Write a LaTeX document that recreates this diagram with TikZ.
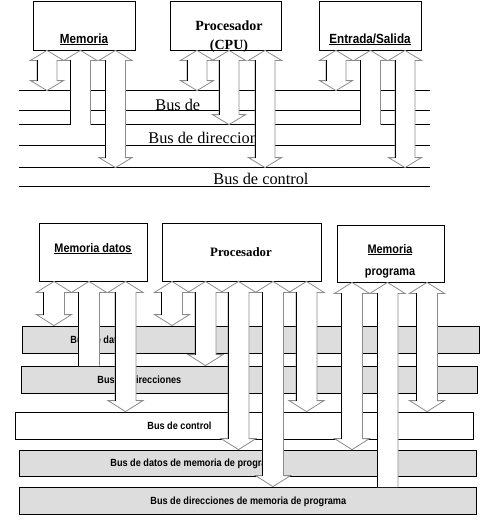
\documentclass[tikz,border=0pt]{standalone}
\usepackage{fontspec}
\setmainfont{Liberation Serif}
\newfontfamily\lblfont{Liberation Sans}[FakeStretch=0.88]
\usetikzlibrary{calc}

\definecolor{busgray}{RGB}{221,221,221}

% size of the fat arrows
\newcommand{\headw}{16.5pt}
\newcommand{\shaftw}{10pt}
\newcommand{\headh}{10pt}

% fat double arrow from a unit down to a bus
\newcommand{\busarrow}[3]{%
  \path[fatbody] let \p1=(#2.south), \p2=(#3.north) in
    (#1pt,\y1) -- ++(\headw,-\headh) -- ++({\shaftw-\headw},0pt)
    -- ({#1pt+\shaftw},{\y2+\headh}) -- ++({\headw-\shaftw},0pt) -- (#1pt,\y2)
    -- ++(-\headw,\headh) -- ++({\headw-\shaftw},0pt)
    -- ({#1pt-\shaftw},{\y1-\headh}) -- ++({\shaftw-\headw},0pt) -- cycle;
  \draw[fatedge] let \p1=(#2.south), \p2=(#3.north) in
    ({#1pt-\shaftw},{\y2+\headh}) -- ({#1pt-\shaftw},{\y1-\headh});}

% fat arrow that opens into the bus
\newcommand{\busjoin}[3]{%
  \fill[white] let \p1=(#2.south), \p2=(#3.north) in
    ({#1pt-\shaftw},{\y2-0.5pt}) -- ({#1pt-\shaftw},{\y1-\headh}) -- ++({\shaftw-\headw},0pt)
    -- (#1pt,\y1) -- ++(\headw,-\headh) -- ++({\shaftw-\headw},0pt)
    -- ({#1pt+\shaftw},{\y2-0.5pt}) -- cycle;
  \draw[fatline] let \p1=(#2.south), \p2=(#3.north) in
    ({#1pt+\shaftw},\y2) -- ({#1pt+\shaftw},{\y1-\headh}) -- ++({\headw-\shaftw},0pt)
    -- (#1pt,\y1) -- ++(-\headw,-\headh) -- ++({\headw-\shaftw},0pt);
  \draw[fatedge] let \p1=(#2.south), \p2=(#3.north) in
    ({#1pt-\shaftw},\y2) -- ({#1pt-\shaftw},{\y1-\headh});}

\begin{document}
\begin{tikzpicture}[x=1pt, y=-1pt, line width=0.8pt]

    % Define styles
    \tikzstyle{unit} = [rectangle, draw=black, inner sep=0pt]
    \tikzstyle{toplbl} = [inner sep=0pt, anchor=base, font={\lblfont\bfseries\fontsize{13.3}{16}\selectfont}]
    \tikzstyle{cpulbl} = [inner sep=0pt, anchor=base, font={\bfseries\fontsize{14}{16}\selectfont}]
    \tikzstyle{wire} = [inner sep=0pt, minimum width=411pt]
    \tikzstyle{wirelbl} = [inner sep=0pt, anchor=base west, font={\fontsize{16.3}{19}\selectfont}]
    \tikzstyle{boxlbl} = [inner sep=0pt, anchor=base, font={\lblfont\bfseries\fontsize{12.4}{14}\selectfont}]
    \tikzstyle{proclbl} = [inner sep=0pt, anchor=base, font={\bfseries\fontsize{12.8}{15}\selectfont}]
    \tikzstyle{band} = [rectangle, draw=black, fill=busgray, inner sep=0pt, minimum height=27pt]
    \tikzstyle{bandlbl} = [inner sep=0pt, anchor=base west, font={\lblfont\bfseries\fontsize{10.4}{12}\selectfont}]
    \tikzstyle{fatbody} = [fill=white, draw=black!45, line join=miter]
    \tikzstyle{fatline} = [draw=black!45, line join=miter]
    \tikzstyle{fatedge} = [draw=black]

    \useasboundingbox (0,0) rectangle (495,530);

    % Place units (first system)
    \node (mem) [unit, minimum width=102pt, minimum height=49pt] at (84,25.5) {};
    \node (cpu) [unit, minimum width=111pt, minimum height=49pt] at (225.5,25.5) {};
    \node (io) [unit, minimum width=102pt, minimum height=49pt] at (370,25.5) {};
    \node (memlbl) [toplbl] at (84,43) {\underline{Memoria}};
    \node (cpulbl) [cpulbl] at (229,30.5) {Procesador};
    \node (cpulblb) [cpulbl] at (229,49) {(CPU)};
    \node (iolbl) [toplbl] at (370,43) {\underline{\smash{Entrada/Salida}}};

    % Place buses (first system)
    \node (dbus) [wire, minimum height=19pt] at (224.5,100.5) {};
    \node (dirbus) [wire, minimum height=20pt] at (224.5,135) {};
    \node (ctlbus) [wire, minimum height=18pt] at (224.5,177) {};
    \foreach \b in {dbus,dirbus,ctlbus}
        \draw (\b.north west) -- (\b.north east) (\b.south west) -- (\b.south east);
    \node (dbuslbl) [wirelbl] at (155,110.5) {Bus de};
    \node (dirbuslbl) [wirelbl] at (148,143.5) {Bus de direccion};
    \node (ctlbuslbl) [wirelbl] at (213,184) {Bus de control};

    % Draw arrows (first system)
    \busarrow{47}{mem}{dbus}
    \busjoin{80.5}{mem}{dirbus}
    \busarrow{115.5}{mem}{ctlbus}
    \busarrow{197}{cpu}{dbus}
    \busarrow{229}{cpu}{dirbus}
    \busarrow{265}{cpu}{ctlbus}
    \busarrow{336}{io}{dbus}
    \busjoin{370.5}{io}{dirbus}
    \busarrow{405}{io}{ctlbus}

    \renewcommand{\headw}{17.5pt}
    \renewcommand{\shaftw}{10.5pt}
    \renewcommand{\headh}{11pt}

    % Place units (second system)
    \node (dmem) [unit, minimum width=108pt, minimum height=58pt] at (93,252) {};
    \node (proc) [unit, minimum width=159pt, minimum height=58pt] at (241.5,252) {};
    \node (pmem) [unit, minimum width=107pt, minimum height=57pt] at (390.5,253.5) {};
    \node (dmemlbl) [boxlbl] at (93,252) {\underline{Memoria datos}};
    \node (proclbl) [proclbl] at (241,256.5) {Procesador};
    \node (pmemlbl) [boxlbl] at (390,253) {\underline{Memoria}};
    \node (pmemlblb) [boxlbl] at (390,275) {programa};

    % Place buses (second system)
    \node (bdat) [band, minimum width=457pt] at (250.5,339.5) {};
    \node (bdir) [band, minimum width=456pt] at (249,379.5) {};
    \node (bctl) [band, fill=white, minimum width=458pt] at (244,425.5) {};
    \node (bpdat) [band, minimum width=457pt, minimum height=26pt] at (247.5,463) {};
    \node (bpdir) [band, minimum width=457pt] at (247.5,500.5) {};
    \node (bdatlbl) [bandlbl] at (70,343) {Bus de datos};
    \node (bdirlbl) [bandlbl] at (97,383) {Bus de direcciones};
    \node (bctllbl) [bandlbl] at (147,429) {Bus de control};
    \node (bpdatlbl) [bandlbl] at (110,466.5) {Bus de datos de memoria de programa};
    \node (bpdirlbl) [bandlbl] at (150,504) {Bus de direcciones de memoria de programa};

    % Draw arrows (second system)
    \busarrow{54}{dmem}{bdat}
    \busjoin{89}{dmem}{bdir}
    \busarrow{125.5}{dmem}{bctl}
    \busarrow{172}{proc}{bdat}
    \busarrow{205.5}{proc}{bdir}
    \busarrow{238.5}{proc}{bpdat}
    \busarrow{273}{proc}{bpdir}
    \busarrow{306.5}{proc}{bctl}
    \busarrow{352}{pmem}{bpdat}
    \busjoin{387.5}{pmem}{bpdir}
    \busarrow{427}{pmem}{bctl}

\end{tikzpicture}
\end{document}
